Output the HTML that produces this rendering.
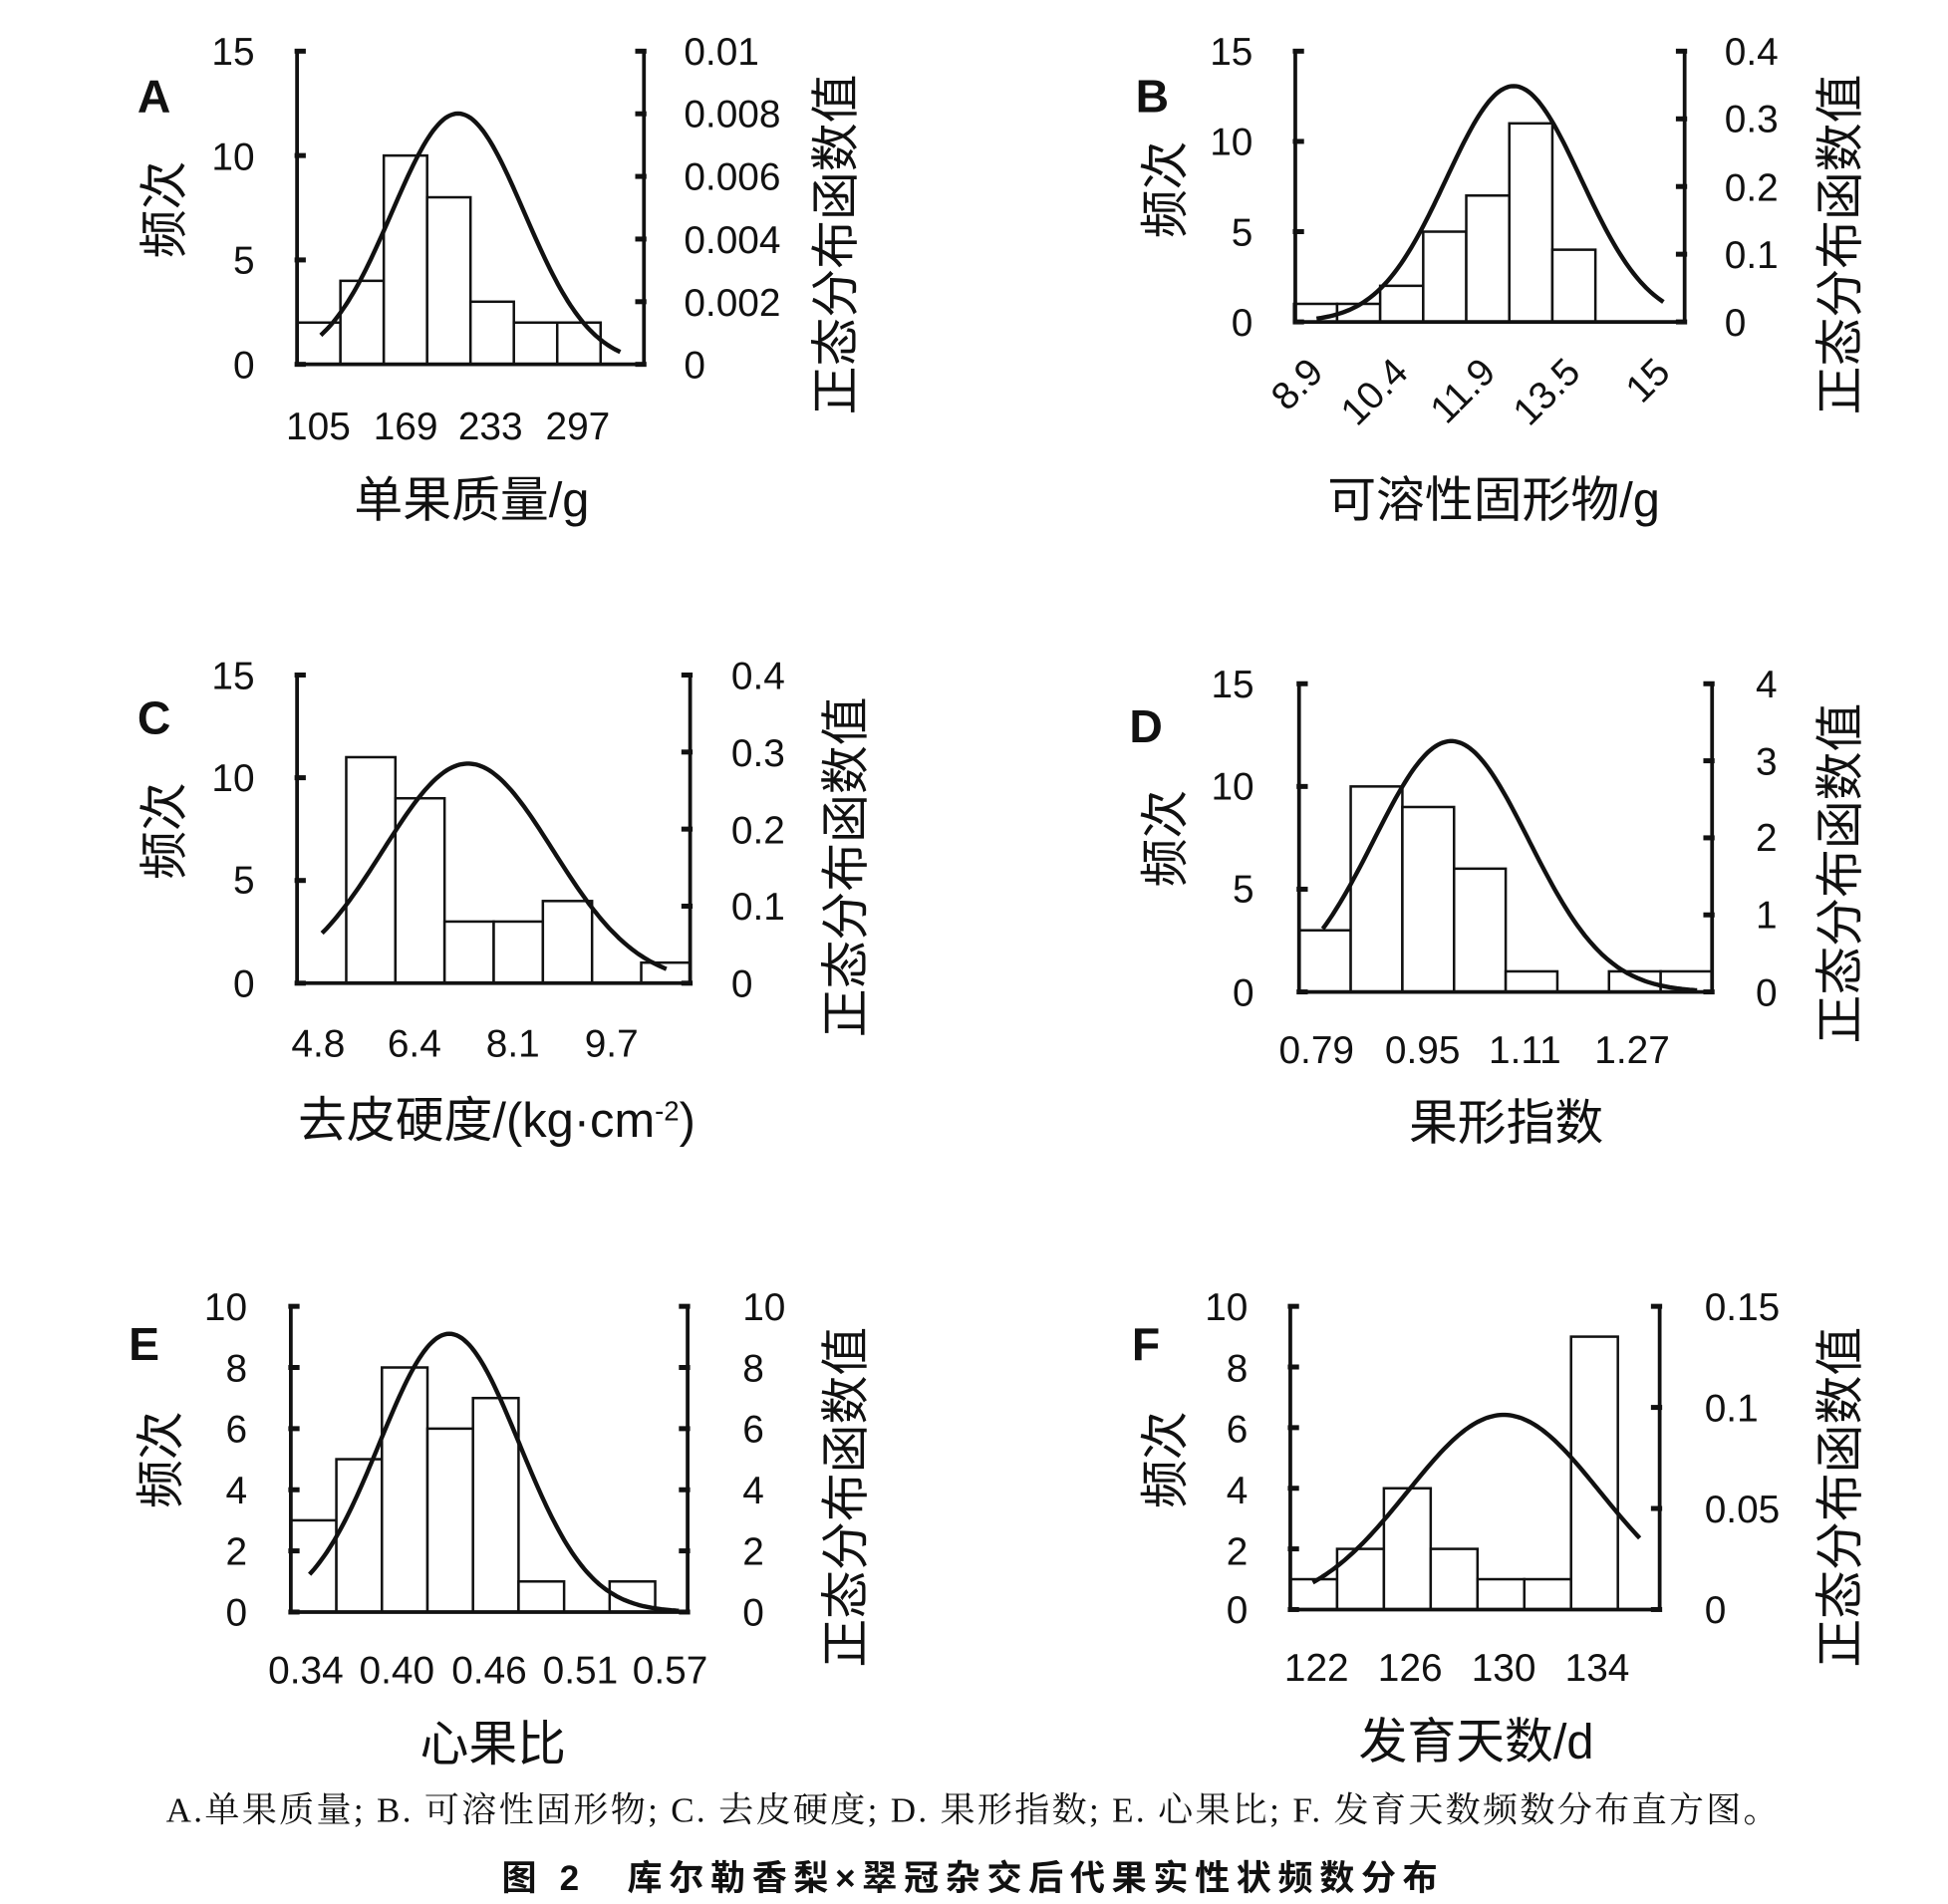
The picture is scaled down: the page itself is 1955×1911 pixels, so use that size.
<!DOCTYPE html>
<html><head><meta charset="utf-8"><style>
html,body{margin:0;padding:0;background:#fff;}
svg{display:block;}
.t{font-family:"Liberation Sans","Noto Sans CJK SC",sans-serif;font-size:31px;fill:#111;}
.c{font-family:"Liberation Sans","Noto Sans CJK SC",sans-serif;font-size:39px;fill:#111;}
.L{font-family:"Liberation Sans",sans-serif;font-size:37px;font-weight:bold;fill:#111;}
.cap{font-family:"Liberation Serif","Noto Serif CJK SC",serif;font-size:28px;fill:#111;}
.cap2{font-family:"Liberation Sans","Noto Sans CJK SC",sans-serif;font-size:28px;fill:#111;font-weight:bold;}
</style></head><body>
<svg id="s" width="1955" height="1911" viewBox="0 0 1561 1526" xmlns="http://www.w3.org/2000/svg">
<rect width="1561" height="1526" fill="#fff"/>
<g id="g"></g>
<!-- Panel A -->
<text class="L" x="110" y="90">A</text>
<g class="t" text-anchor="end"><text x="204" y="52">15</text><text x="204" y="136">10</text><text x="204" y="219">5</text><text x="204" y="303">0</text></g>
<g class="t"><text x="548" y="52">0.01</text><text x="548" y="102">0.008</text><text x="548" y="152">0.006</text><text x="548" y="203">0.004</text><text x="548" y="253">0.002</text><text x="548" y="303">0</text></g>
<g class="t" text-anchor="middle"><text x="255" y="352">105</text><text x="325" y="352">169</text><text x="393" y="352">233</text><text x="463" y="352">297</text></g>
<text class="c" text-anchor="middle" x="378" y="414">单果质量/g</text>
<text class="c" text-anchor="middle" transform="translate(145,168) rotate(-90)">频次</text>
<text class="c" text-anchor="middle" transform="translate(683,196) rotate(-90)">正态分布函数值</text>
<!-- Panel B -->
<text class="L" x="910" y="90">B</text>
<g class="t" text-anchor="end"><text x="1004" y="52">15</text><text x="1004" y="124">10</text><text x="1004" y="197">5</text><text x="1004" y="269">0</text></g>
<g class="t"><text x="1382" y="52">0.4</text><text x="1382" y="106">0.3</text><text x="1382" y="161">0.2</text><text x="1382" y="215">0.1</text><text x="1382" y="269">0</text></g>
<g class="t" text-anchor="end">
<text transform="translate(1062,300) rotate(-45)">8.9</text>
<text transform="translate(1130,300) rotate(-45)">10.4</text>
<text transform="translate(1200,300) rotate(-45)">11.9</text>
<text transform="translate(1268,300) rotate(-45)">13.5</text>
<text transform="translate(1340,300) rotate(-45)">15</text></g>
<text class="c" text-anchor="middle" x="1197" y="414">可溶性固形物/g</text>
<text class="c" text-anchor="middle" transform="translate(947,152) rotate(-90)">频次</text>
<text class="c" text-anchor="middle" transform="translate(1488,196) rotate(-90)">正态分布函数值</text>
<!-- Panel C -->
<text class="L" x="110" y="588">C</text>
<g class="t" text-anchor="end"><text x="204" y="552">15</text><text x="204" y="634">10</text><text x="204" y="716">5</text><text x="204" y="799">0</text></g>
<g class="t"><text x="586" y="552">0.4</text><text x="586" y="614">0.3</text><text x="586" y="676">0.2</text><text x="586" y="737">0.1</text><text x="586" y="799">0</text></g>
<g class="t" text-anchor="middle"><text x="255" y="847">4.8</text><text x="332" y="847">6.4</text><text x="411" y="847">8.1</text><text x="490" y="847">9.7</text></g>
<text class="c" text-anchor="middle" x="398" y="911">去皮硬度/(kg·cm<tspan font-size="22" dy="-13">-2</tspan><tspan dy="13">)</tspan></text>
<text class="c" text-anchor="middle" transform="translate(145,666) rotate(-90)">频次</text>
<text class="c" text-anchor="middle" transform="translate(691,695) rotate(-90)">正态分布函数值</text>
<!-- Panel D -->
<text class="L" x="905" y="595">D</text>
<g class="t" text-anchor="end"><text x="1005" y="559">15</text><text x="1005" y="641">10</text><text x="1005" y="723">5</text><text x="1005" y="806">0</text></g>
<g class="t"><text x="1407" y="559">4</text><text x="1407" y="621">3</text><text x="1407" y="682">2</text><text x="1407" y="744">1</text><text x="1407" y="806">0</text></g>
<g class="t" text-anchor="middle"><text x="1055" y="852">0.79</text><text x="1140" y="852">0.95</text><text x="1222" y="852">1.11</text><text x="1308" y="852">1.27</text></g>
<text class="c" text-anchor="middle" x="1207" y="913">果形指数</text>
<text class="c" text-anchor="middle" transform="translate(947,672) rotate(-90)">频次</text>
<text class="c" text-anchor="middle" transform="translate(1488,700) rotate(-90)">正态分布函数值</text>
<!-- Panel E -->
<text class="L" x="103" y="1090">E</text>
<g class="t" text-anchor="end"><text x="198" y="1058">10</text><text x="198" y="1107">8</text><text x="198" y="1156">6</text><text x="198" y="1205">4</text><text x="198" y="1254">2</text><text x="198" y="1303">0</text></g>
<g class="t"><text x="595" y="1058">10</text><text x="595" y="1107">8</text><text x="595" y="1156">6</text><text x="595" y="1205">4</text><text x="595" y="1254">2</text><text x="595" y="1303">0</text></g>
<g class="t" text-anchor="middle"><text x="245" y="1349">0.34</text><text x="318" y="1349">0.40</text><text x="392" y="1349">0.46</text><text x="465" y="1349">0.51</text><text x="537" y="1349">0.57</text></g>
<text class="c" text-anchor="middle" x="395" y="1411">心果比</text>
<text class="c" text-anchor="middle" transform="translate(142,1170) rotate(-90)">频次</text>
<text class="c" text-anchor="middle" transform="translate(691,1200) rotate(-90)">正态分布函数值</text>
<!-- Panel F -->
<text class="L" x="907" y="1090">F</text>
<g class="t" text-anchor="end"><text x="1000" y="1058">10</text><text x="1000" y="1107">8</text><text x="1000" y="1156">6</text><text x="1000" y="1205">4</text><text x="1000" y="1254">2</text><text x="1000" y="1301">0</text></g>
<g class="t"><text x="1366" y="1058">0.15</text><text x="1366" y="1139">0.1</text><text x="1366" y="1220">0.05</text><text x="1366" y="1301">0</text></g>
<g class="t" text-anchor="middle"><text x="1055" y="1347">122</text><text x="1130" y="1347">126</text><text x="1205" y="1347">130</text><text x="1280" y="1347">134</text></g>
<text class="c" text-anchor="middle" x="1183" y="1409">发育天数/d</text>
<text class="c" text-anchor="middle" transform="translate(947,1170) rotate(-90)">频次</text>
<text class="c" text-anchor="middle" transform="translate(1488,1200) rotate(-90)">正态分布函数值</text>
<!-- Caption -->
<text class="cap" x="133" y="1460" textLength="1292" lengthAdjust="spacing">A.单果质量; B. 可溶性固形物; C. 去皮硬度; D. 果形指数; E. 心果比; F. 发育天数频数分布直方图。</text>
<text class="cap2" x="402" y="1515" textLength="750" lengthAdjust="spacing">图 2　库尔勒香梨×翠冠杂交后代果实性状频数分布</text>
</svg>
<script>
var P=[
{L:238,R:516,T:41,B:292,m:15,bs:238,w:34.75,c:[2,4,10,8,3,2,2],xp:367,yp:91,s:53,x0:257,x1:498,lt:[0,5,10,15],rt:6},
{L:1038,R:1350,T:41,B:258,m:15,bs:1037,w:34.5,c:[1,1,2,5,7,11,4],xp:1213,yp:69,s:54,x0:1055,x1:1333,lt:[0,5,10,15],rt:5},
{L:238,R:553,T:541,B:788,m:15,bs:238,w:39.4,c:[0,11,9,3,3,4,0,1],xp:375,yp:612,s:68,x0:258,x1:535,lt:[0,5,10,15],rt:5},
{L:1041,R:1372,T:548,B:795,m:15,bs:1041,w:41.4,c:[3,10,9,6,1,0,1,1],xp:1163,yp:594,s:62,x0:1060,x1:1360,lt:[0,5,10,15],rt:5},
{L:233,R:551,T:1047,B:1292,m:10,bs:233,w:36.5,c:[3,5,8,6,7,1,0,1],xp:360,yp:1069,s:56,x0:248,x1:545,lt:[0,2,4,6,8,10],rt:6},
{L:1034,R:1330,T:1047,B:1290,m:10,bs:1034,w:37.5,c:[1,2,4,2,1,1,9],xp:1205,yp:1134,s:77,x0:1052,x1:1315,lt:[0,2,4,6,8,10],rt:4}];
var h='';
P.forEach(function(p){
 p.c.forEach(function(v,i){ if(v>0){var y=p.B-(p.B-p.T)*v/p.m;
  h+='<rect x="'+(p.bs+i*p.w)+'" y="'+y+'" width="'+p.w+'" height="'+(p.B-y)+'" fill="#fff" stroke="#111" stroke-width="2"/>';}});
 h+='<path d="M'+p.L+' '+p.T+'V'+p.B+'H'+p.R+'V'+p.T+'" fill="none" stroke="#111" stroke-width="3"/>';
 p.lt.forEach(function(v){var y=p.B-(p.B-p.T)*v/p.m;h+='<line x1="'+(p.L-2)+'" x2="'+(p.L+7)+'" y1="'+y+'" y2="'+y+'" stroke="#111" stroke-width="4"/>';});
 for(var k=0;k<p.rt;k++){var y=p.T+(p.B-p.T)*k/(p.rt-1);h+='<line x1="'+(p.R-7)+'" x2="'+(p.R+2)+'" y1="'+y+'" y2="'+y+'" stroke="#111" stroke-width="4"/>';}
 var d='';for(var x=p.x0;x<=p.x1;x+=2){var y=p.B-(p.B-p.yp)*Math.exp(-(x-p.xp)*(x-p.xp)/(2*p.s*p.s));d+=(d?'L':'M')+x+' '+y.toFixed(1);}
 h+='<path d="'+d+'" fill="none" stroke="#111" stroke-width="3.5"/>';
});
document.getElementById('g').innerHTML=h;
</script>
</body></html>
